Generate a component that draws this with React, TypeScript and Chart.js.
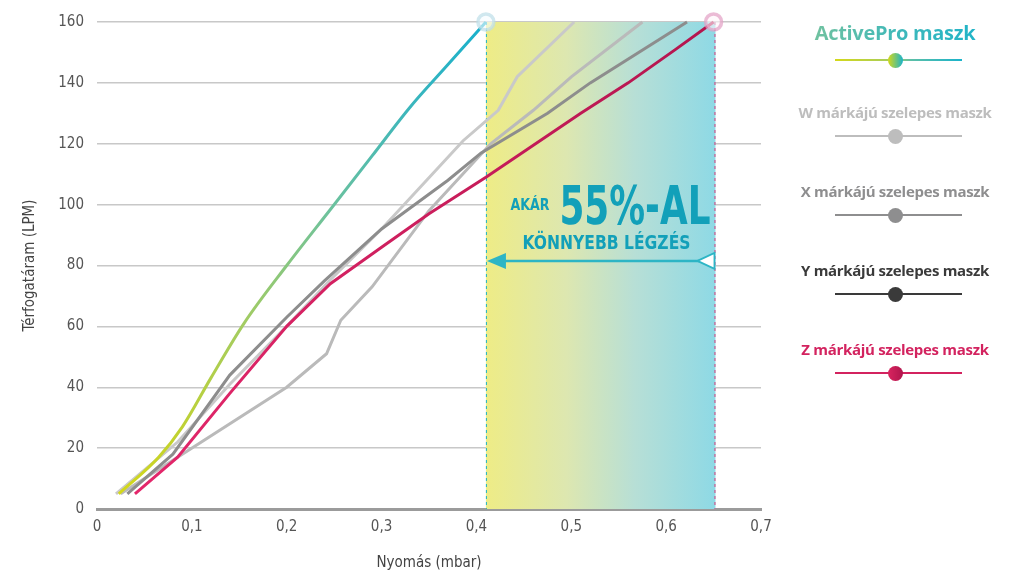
import React, { useEffect, useRef } from "react";
import { Chart, registerables } from "chart.js";

Chart.register(...registerables);

// ---------- data ----------
const X_MIN = 0;
const X_MAX = 0.7;
const X_STEP = 0.1;
const Y_MIN = 0;
const Y_MAX = 160;
const Y_STEP = 20;

const X_TITLE = "Nyomás (mbar)";
const Y_TITLE = "Térfogatáram (LPM)";

const ACTIVEPRO_X = [0.023, 0.065, 0.09, 0.12, 0.155, 0.2, 0.245, 0.29, 0.33, 0.37, 0.41];
const ACTIVEPRO_Y = [5, 17, 27, 43, 61, 80, 98, 116, 132, 146, 160];

const W_X = [0.025, 0.085, 0.2, 0.242, 0.257, 0.29, 0.35, 0.415, 0.46, 0.5, 0.575];
const W_Y = [5, 17, 40, 51, 62, 73, 98, 120, 131, 142, 160];

const X_SER_X = [0.032, 0.08, 0.14, 0.2, 0.24, 0.3, 0.37, 0.405, 0.475, 0.52, 0.622];
const X_SER_Y = [5, 18, 44, 63, 75, 92, 108, 117, 130, 140, 160];

const Y_SER_X = [0.02, 0.085, 0.14, 0.2, 0.245, 0.3, 0.386, 0.423, 0.443, 0.503];
const Y_SER_Y = [5, 22, 41, 60, 75, 92, 121, 131, 142, 160];

const Z_X = [0.04, 0.085, 0.14, 0.2, 0.246, 0.3, 0.35, 0.41, 0.51, 0.56, 0.61, 0.65];
const Z_Y = [5, 17, 38, 60, 74, 86, 97, 109, 130, 140, 151, 160];

const BAND_START = 0.41;
const BAND_END = 0.652;
const ARROW_Y = 81.5;

const ANNOT_SMALL = "AKÁR";
const ANNOT_BIG = "55%-AL";
const ANNOT_SUB = "KÖNNYEBB LÉGZÉS";

const LEGEND_LABELS = [
  "ActivePro maszk",
  "W márkájú szelepes maszk",
  "X márkájú szelepes maszk",
  "Y márkájú szelepes maszk",
  "Z márkájú szelepes maszk",
];
const LEGEND_COLORS = ["#1ab3cb", "#bdbdbd", "#8e8e8f", "#3a3a3a", "#d3235f"];

// ---------- styling ----------
const NARROW = "'Liberation Sans Narrow', 'DejaVu Sans Condensed', 'Open Sans', sans-serif";
const TEAL = "#12a0b9";

function zip(xs: number[], ys: number[]) {
  return xs.map((x, i) => ({ x, y: ys[i] }));
}

function lastRadius(n: number, r: number) {
  return Array.from({ length: n }, (_, i) => (i === n - 1 ? r : 0));
}

const bandPlugin = {
  id: "band",
  beforeDatasetsDraw(chart: any) {
    const { ctx, scales } = chart;
    const xs = scales.x;
    const ys = scales.y;
    const x0 = xs.getPixelForValue(BAND_START);
    const x1 = xs.getPixelForValue(BAND_END);
    const yTop = ys.getPixelForValue(Y_MAX);
    const yBot = ys.getPixelForValue(Y_MIN);
    ctx.save();
    const g = ctx.createLinearGradient(x0, 0, x1, 0);
    g.addColorStop(0, "#eeec86");
    g.addColorStop(0.35, "#dde7b0");
    g.addColorStop(0.65, "#b7dfd6");
    g.addColorStop(1, "#8ed9e5");
    ctx.fillStyle = g;
    ctx.fillRect(x0, yTop, x1 - x0, yBot - yTop);
    ctx.setLineDash([3, 3]);
    ctx.lineWidth = 1;
    ctx.strokeStyle = "#22b3c2";
    ctx.beginPath();
    ctx.moveTo(x0 + 0.5, yTop);
    ctx.lineTo(x0 + 0.5, yBot);
    ctx.stroke();
    ctx.strokeStyle = "#d5407c";
    ctx.beginPath();
    ctx.moveTo(x1 - 0.5, yTop);
    ctx.lineTo(x1 - 0.5, yBot);
    ctx.stroke();
    ctx.restore();
  },
  afterDatasetsDraw(chart: any) {
    const { ctx, scales } = chart;
    const xs = scales.x;
    const ys = scales.y;
    const x0 = xs.getPixelForValue(BAND_START);
    const x1 = xs.getPixelForValue(BAND_END);
    const ay = ys.getPixelForValue(ARROW_Y);
    ctx.save();
    // arrow shaft
    ctx.strokeStyle = "#2db5c5";
    ctx.lineWidth = 2.5;
    ctx.beginPath();
    ctx.moveTo(x0 + 10, ay);
    ctx.lineTo(x1 - 10, ay);
    ctx.stroke();
    // left filled head
    ctx.fillStyle = "#2db5c5";
    ctx.beginPath();
    ctx.moveTo(x0 + 1, ay);
    ctx.lineTo(x0 + 20, ay - 8);
    ctx.lineTo(x0 + 20, ay + 8);
    ctx.closePath();
    ctx.fill();
    // right hollow head
    ctx.fillStyle = "#ffffff";
    ctx.lineWidth = 1.8;
    ctx.beginPath();
    ctx.moveTo(x1 - 18, ay);
    ctx.lineTo(x1 - 1, ay - 8);
    ctx.lineTo(x1 - 1, ay + 8);
    ctx.closePath();
    ctx.fill();
    ctx.stroke();

    // texts
    const fitText = (text: string, font: string, right: number, base: number, width: number) => {
      ctx.font = font;
      const w = ctx.measureText(text).width;
      const s = width / w;
      ctx.save();
      ctx.translate(right - width, base);
      ctx.scale(s, 1);
      ctx.textAlign = "left";
      ctx.textBaseline = "alphabetic";
      ctx.fillText(text, 0, 0);
      ctx.restore();
    };
    ctx.fillStyle = TEAL;
    fitText(ANNOT_BIG, `bold 53px ${NARROW}`, x1 - 5, ay - 37, 151);
    fitText(ANNOT_SMALL, `bold 15px ${NARROW}`, x1 - 166, ay - 51, 39);
    fitText(ANNOT_SUB, `bold 20px ${NARROW}`, x1 - 25, ay - 12, 168);
    ctx.restore();
  },
};

export default function App() {
  const canvasRef = useRef<HTMLCanvasElement | null>(null);

  useEffect(() => {
    document.body.style.margin = "0";
    const canvas = canvasRef.current;
    if (!canvas) return;

    const activeGradient = (c: any) => {
      const chart = c.chart;
      if (!chart.chartArea) return "#1ab0c8";
      const xs = chart.scales.x;
      const g = chart.ctx.createLinearGradient(
        xs.getPixelForValue(ACTIVEPRO_X[0]),
        0,
        xs.getPixelForValue(ACTIVEPRO_X[ACTIVEPRO_X.length - 1]),
        0
      );
      g.addColorStop(0, "#d4d81a");
      g.addColorStop(0.15, "#c2d22e");
      g.addColorStop(0.34, "#a3cc62");
      g.addColorStop(0.57, "#6ec29c");
      g.addColorStop(0.79, "#3cb6bc");
      g.addColorStop(1, "#17b0cc");
      return g;
    };
    const zGradient = (c: any) => {
      const chart = c.chart;
      if (!chart.chartArea) return "#c81c5a";
      const xs = chart.scales.x;
      const g = chart.ctx.createLinearGradient(
        xs.getPixelForValue(Z_X[0]),
        0,
        xs.getPixelForValue(Z_X[Z_X.length - 1]),
        0
      );
      g.addColorStop(0, "#e4276b");
      g.addColorStop(1, "#b3154e");
      return g;
    };

    const common = {
      showLine: true,
      borderWidth: 3,
      tension: 0,
      pointRadius: 0,
      pointHoverRadius: 0,
      clip: false as any,
    };

    const chart = new Chart(canvas, {
      type: "scatter",
      data: {
        datasets: [
          { ...common, label: "Y", data: zip(Y_SER_X, Y_SER_Y), borderColor: "#c9c9c9", order: 5 },
          { ...common, label: "W", data: zip(W_X, W_Y), borderColor: "#bababa", order: 4 },
          { ...common, label: "X", data: zip(X_SER_X, X_SER_Y), borderColor: "#8d8d8d", order: 3 },
          {
            ...common,
            label: "Z",
            data: zip(Z_X, Z_Y),
            borderColor: zGradient,
            order: 2,
            pointRadius: lastRadius(Z_X.length, 8),
            pointBackgroundColor: "rgba(255,245,250,0.6)",
            pointBorderColor: "rgba(226,160,196,0.7)",
            pointBorderWidth: 3.5,
          },
          {
            ...common,
            label: "ActivePro",
            data: zip(ACTIVEPRO_X, ACTIVEPRO_Y),
            borderColor: activeGradient,
            cubicInterpolationMode: "monotone",
            order: 1,
            pointRadius: lastRadius(ACTIVEPRO_X.length, 8),
            pointBackgroundColor: "rgba(245,252,255,0.6)",
            pointBorderColor: "rgba(190,222,232,0.7)",
            pointBorderWidth: 3.5,
          },
        ] as any,
      },
      options: {
        responsive: false,
        animation: false,
        devicePixelRatio: 1,
        layout: { padding: { left: 0, right: 249, top: 20, bottom: 0 } },
        plugins: {
          legend: { display: false },
          tooltip: { enabled: false },
        },
        scales: {
          x: {
            type: "linear",
            min: X_MIN,
            max: X_MAX,
            afterFit: (s: any) => {
              s.height = 66;
            },
            grid: { display: false, drawTicks: false },
            border: { display: true, color: "#9b9b9b", width: 3 },
            ticks: {
              stepSize: X_STEP,
              padding: 9,
              color: "#555",
              font: { family: NARROW, size: 15 },
              callback: (v: any) => (Number(v) === 0 ? "0" : Number(v).toFixed(1).replace(".", ",")),
            },
            title: {
              display: true,
              text: X_TITLE,
              color: "#444",
              font: { family: NARROW, size: 15 },
              padding: { top: 0, bottom: 3 },
            },
          },
          y: {
            type: "linear",
            min: Y_MIN,
            max: Y_MAX,
            afterFit: (s: any) => {
              s.width = 97;
            },
            grid: {
              color: (c: any) => (c.tick && c.tick.value === 0 ? "rgba(0,0,0,0)" : "#c8c8c8"),
              lineWidth: 1.5,
              drawTicks: false,
            },
            border: { display: false },
            ticks: {
              stepSize: Y_STEP,
              padding: 13,
              color: "#555",
              font: { family: NARROW, size: 15 },
            },
            title: {
              display: true,
              text: Y_TITLE,
              color: "#444",
              font: { family: NARROW, size: 15 },
              padding: { top: 21, bottom: 0 },
            },
          },
        },
      },
      plugins: [bandPlugin],
    });
    return () => chart.destroy();
  }, []);

  const legendFont = "'Open Sans', 'Noto Sans', sans-serif";

  return (
    <div style={{ position: "absolute", left: 0, top: 0, width: 1010, height: 575, background: "#fff" }}>
      <canvas ref={canvasRef} width={1010} height={575} style={{ position: "absolute", left: 0, top: 0 }} />
      {LEGEND_LABELS.map((label, i) => {
        const first = i === 0;
        const textY = first ? 32 : 112 + (i - 1) * 79;
        const lineY = first ? 60 : textY + 24;
        const lineBg = first
          ? "linear-gradient(90deg, #d4d81a 0%, #a6cd5e 45%, #5cbfa8 60%, #1ab3cb 100%)"
          : LEGEND_COLORS[i];
        const dotBg = first
          ? "linear-gradient(90deg, #d4d81a, #1ab3cb)"
          : i === 4
          ? "linear-gradient(90deg, #d8245f, #b0154c)"
          : LEGEND_COLORS[i];
        return (
          <React.Fragment key={label}>
            <div
              style={{
                position: "absolute",
                left: 795,
                width: 200,
                top: textY,
                transform: "translateY(-50%)",
                textAlign: "center",
                fontFamily: legendFont,
                fontWeight: 700,
                fontSize: first ? 20 : 15,
                letterSpacing: first ? -0.3 : -0.3,
                whiteSpace: "nowrap",
                color: first ? "transparent" : LEGEND_COLORS[i],
                background: first ? "linear-gradient(90deg, #7cc49a 0%, #3cb8bb 55%, #1ab3cb 100%)" : undefined,
                WebkitBackgroundClip: first ? "text" : undefined,
                backgroundClip: first ? "text" : undefined,
              }}
            >
              {label}
            </div>
            <div
              style={{
                position: "absolute",
                left: 835,
                width: 127,
                top: lineY - 1,
                height: 2,
                background: lineBg,
              }}
            />
            <div
              style={{
                position: "absolute",
                left: 895 - 7,
                top: lineY - 7,
                width: 15,
                height: 15,
                borderRadius: "50%",
                background: dotBg,
              }}
            />
          </React.Fragment>
        );
      })}
    </div>
  );
}
